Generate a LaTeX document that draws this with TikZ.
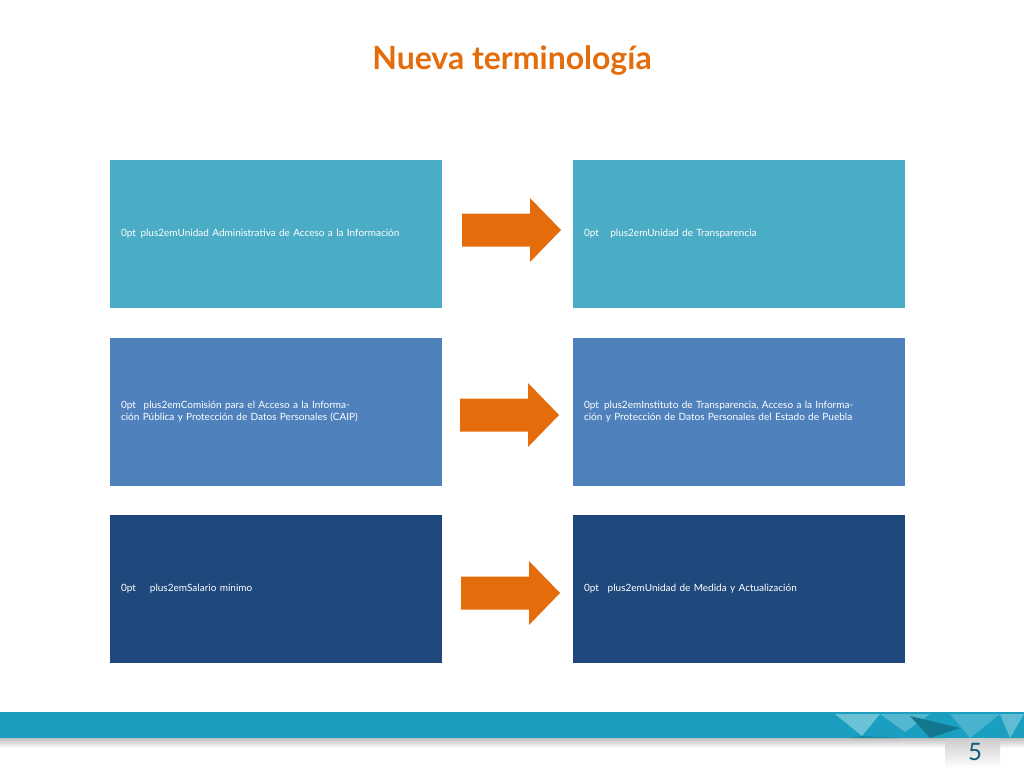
\documentclass[tikz,border=0pt]{standalone}
\usepackage{fontspec}
\setmainfont{Lato}
\definecolor{c1}{HTML}{4BACC6}
\definecolor{c2}{HTML}{4F81BD}
\definecolor{c3}{HTML}{1F497D}
\definecolor{org}{HTML}{E46C0A}
\definecolor{band}{HTML}{1B9FC0}
\begin{document}
\begin{tikzpicture}[x=1pt,y=-1pt,
  box/.style={minimum width=332pt,minimum height=148pt,text width=310pt,align=center,text=white,font=\hyphenpenalty=10000\fontsize{21.5}{28}\selectfont,inner sep=0pt},
  arr/.style={fill=org}]
\useasboundingbox (0,0) rectangle (1024,768);
\fill[white] (0,0) rectangle (1024,768);
\node[text=org,font=\bfseries\fontsize{32}{36}\selectfont] (title) at (512,61) {Nueva terminología};
\node[box,fill=c1] (a1) at (276,234) {Unidad Administrativa de Acceso a la Información};
\node[box,fill=c1] (b1) at (739,234) {Unidad de Transparencia};
\node[box,fill=c2] (a2) at (276,411.5) {Comisión para el Acceso a la Información Pública y Protección de Datos Personales (CAIP)};
\node[box,fill=c2] (b2) at (739,411.5) {Instituto de Transparencia, Acceso a la Información y Protección de Datos Personales del Estado de Puebla};
\node[box,fill=c3] (a3) at (276,588.5) {Salario mínimo};
\node[box,fill=c3] (b3) at (739,588.5) {Unidad de Medida y Actualización};
\foreach \n/\x/\y in {r1/462/230, r2/460/415, r3/461/593}{
  \fill[arr] (\x,\y-16.5) -- ++(68,0) -- ++(0,-15.5) -- ++(31,32) -- ++(-31,32) -- ++(0,-15.5) -- ++(-68,0) -- cycle;
  \coordinate (\n) at (\x+50,\y);
}
\shade[top color=black!25,bottom color=white] (0,738) rectangle (1024,748);
\fill[band] (0,712) rectangle (1024,738);
\fill[white!35!band] (835,714) -- (880,714) -- (862,736) -- cycle;
\fill[black!15!band] (850,738) -- (862,736) -- (900,738) -- cycle;
\fill[white!25!band] (880,714) -- (930,714) -- (905,732) -- cycle;
\fill[black!25!band] (910,716) -- (960,728) -- (930,738) -- cycle;
\fill[white!20!band] (950,714) -- (1000,714) -- (970,738) -- cycle;
\fill[white!30!band] (1000,714) -- (1024,714) -- (1010,738) -- cycle;
\shade[top color=black!20,bottom color=white] (945,738) rectangle (1000,768);
\node[text=c3!70!teal,font=\fontsize{24}{26}\selectfont] (pg) at (975,752) {5};
\end{tikzpicture}
\end{document}
